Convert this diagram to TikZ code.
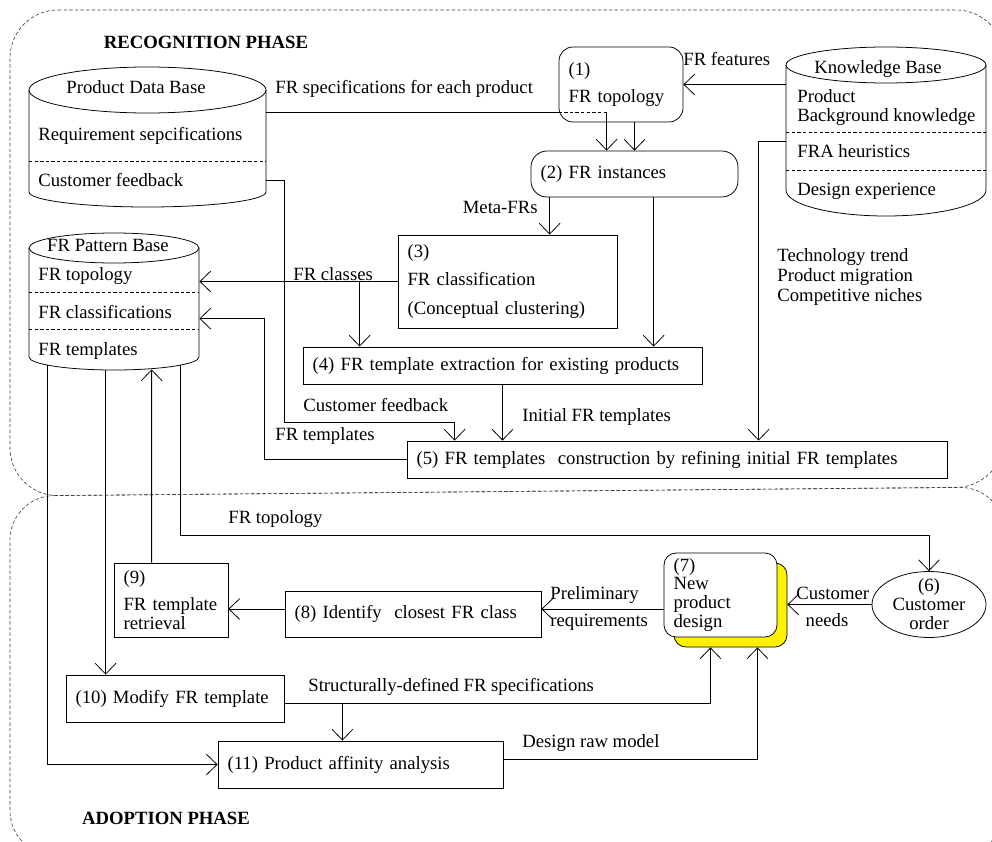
\documentclass[tikz,border=0pt]{standalone}
\usepackage{fontspec}
\setmainfont{Liberation Serif}
\usetikzlibrary{arrows.meta,calc,fit,shapes.geometric,shadows}

\newcommand{\diagfont}{\fontsize{13.3pt}{13.5pt}\selectfont}
% data base drum: left x, right x, top centre y, top radius, side bottom y, bottom radius
\newcommand{\dbdrum}[6]{%
  \draw ({(#1+#2)/2},#3) ellipse [x radius={(#2-#1)*0.125mm}, y radius={#4*0.25mm}];
  \draw (#1,#3) -- (#1,#5) arc [start angle=180, end angle=360, x radius={(#2-#1)*0.125mm}, y radius={#6*0.25mm}] -- (#2,#3);
}

\begin{document}
\begin{tikzpicture}[
    x=0.25mm, y=-0.25mm, line width=0.55pt, font=\diagfont,
    box/.style={draw, rectangle, align=left, inner xsep=2.4mm, inner ysep=0pt},
    rbox/.style={box, rounded corners=3.5mm},
    arr/.style={-{Straight Barb[length=2.7mm,width=5.2mm]}},
    lbl/.style={inner sep=0pt, anchor=west, text height=0.7em, text depth=0.2em},
    sep/.style={dash pattern=on 2.4pt off 1.6pt, line width=0.45pt},
    phase/.style={dash pattern=on 2.4pt off 1.6pt, line width=0.45pt, black!75}
]
    \useasboundingbox (0,0) rectangle (992,842);
    \clip (0,0) rectangle (992,842);

    % phases
    \draw[phase, rounded corners=12mm] (10,10) -- (1004,10) -- (1004,487) -- (10,496) -- cycle;
    \draw[phase, rounded corners=11mm] (10,496) -- (1004,487) -- (1004,855) -- (10,855) -- cycle;
    \node[font=\diagfont\bfseries] (recog) at (206,42) {RECOGNITION PHASE};
    \node[font=\diagfont\bfseries, anchor=west] (adopt) at (77,818) {ADOPTION PHASE};

    % data bases
    \dbdrum{29}{266}{90}{23}{192}{15}
    \node[fit={(29,90) (266,192)}, inner sep=0pt] (pdb) {};
    \node[lbl, anchor=center] (pdbt) at (136,90) {Product Data Base};
    \node[lbl] (pdbr) at (38,137) {Requirement sepcifications};
    \draw[sep] (29,161) -- (266,161);
    \node[lbl] (pdbf) at (38,183) {Customer feedback};

    \dbdrum{786}{986}{65}{18}{190}{26}
    \node[fit={(786,65) (986,190)}, inner sep=0pt] (kb) {};
    \node[lbl, anchor=center] (kbt) at (878,70) {Knowledge Base};
    \node[inner sep=0pt, align=left, anchor=west] (kbp) at (797,107.5) {Product\\Background knowledge};
    \draw[sep] (786,132) -- (986,132);
    \node[lbl] (kbh) at (797,154) {FRA heuristics};
    \draw[sep] (786,170) -- (986,170);
    \node[lbl] (kbd) at (797,192) {Design experience};

    \dbdrum{29}{199}{248}{15}{357}{13}
    \node[fit={(29,248) (199,357)}, inner sep=0pt] (fpb) {};
    \node[lbl, anchor=center] (fpbt) at (108,248) {FR Pattern Base};
    \node[lbl] (fpbo) at (38,277) {FR topology};
    \draw[sep] (29,292) -- (199,292);
    \node[lbl] (fpbc) at (38,315) {FR classifications};
    \draw[sep] (29,329) -- (199,329);
    \node[lbl] (fpbm) at (38,352) {FR templates};

    % steps
    \node[rbox, text width=26.2mm, minimum height=18.75mm] (t1) at (621,84.5) {(1)\\[6pt]FR topology};
    \node[rbox, text width=46.95mm, minimum height=11.5mm, rounded corners=4mm] (t2) at (634.5,174) {(2) FR instances};
    \node[box, text width=49.95mm, minimum height=23.25mm] (t3) at (507.5,281.5) {(3)\\[6pt]FR classification\\[7pt](Conceptual clustering)};
    \node[box, text width=94.95mm, minimum height=9.25mm] (t4) at (502.5,365.5) {(4) FR template extraction for existing products};
    \node[box, text width=130.2mm, minimum height=9.25mm] (t5) at (677,459.5) {(5) FR templates\ \ construction by refining initial FR templates};
    \node[ellipse, draw, minimum width=28.5mm, minimum height=16.5mm, inner sep=-2mm, align=center] (t6) at (929,604.5) {(6)\\Customer\\order};
    \node[rbox, rounded corners=3mm, text width=23.45mm, minimum height=21mm, fill=white,
        copy shadow={shadow xshift=2.5mm, shadow yshift=-2.5mm, fill=yellow, draw=black, line width=0.55pt}] (t7) at (720.5,595) {(7)\\New\\product\\design};
    \node[box, text width=59.2mm, minimum height=11.5mm] (t8) at (413,614) {(8) Identify\ \ closest FR class};
    \node[box, text width=23.7mm, minimum height=18.5mm] (t9) at (171,600) {(9)\\[6pt]FR template\\retrieval};
    \node[box, text width=49.7mm, minimum height=11.75mm] (t10) at (175,698.5) {(10) Modify FR template};
    \node[box, text width=66.45mm, minimum height=11.75mm] (t11) at (360.5,764.5) {(11) Product affinity analysis};

    % recognition flows
    \draw ($(pdb.north east)+(0,23)$) coordinate (s1) -- (s1 -| t1.west);
    \draw[sep] (s1 -| t1.west) -- ++(48,0) coordinate (s2);
    \draw[arr] (s2) -- (s2 |- t2.north);
    \draw[arr] (t1.south -| t2.north) -- (t2.north);
    \draw[arr] (kb.west |- t1.east) -- (t1.east);
    \draw[arr] ($(t2.south west)+(19,0)$) coordinate (m1) -- (m1 |- t3.north);
    \draw[arr] ($(t2.south west)+(123,0)$) coordinate (m2) -- (m2 |- t4.north);
    \draw[arr] (t3.west) -- (t3.west -| fpb.east);
    \draw[arr] ($(t3.west)+(-38,0)$) coordinate (c1) -- (c1 |- t4.north);
    \draw[arr] ($(pdb.north east)+(0,91)$) -- ++(18,0) -- ++(0,242) -| ($(t5.north west)+(48,0)$);
    \draw[arr] (t4.south) -- (t4.south |- t5.north);
    \draw[arr] ($(kb.north west)+(0,77)$) -- ++(-27,0) coordinate (k1) -- (k1 |- t5.north);
    \draw[arr] (t5.west) -- ++(-142,0) |- ($(fpb.north east)+(0,71)$);

    % adoption flows
    \draw[arr] ($(fpb.south west)+(19,8)$) |- (t11.west);
    \draw[arr] ($(fpb.south west)+(77,13)$) coordinate (p2) -- (p2 |- t10.north);
    \draw[arr] ($(t9.north west)+(38,0)$) -- ($(fpb.south west)+(123,12)$);
    \draw[arr] ($(fpb.south west)+(152,8)$) -- ++(0,170) -| (t6.north);
    \draw[arr] (t6.west) -- ($(t7.east |- t6.west)+(10,0)$);
    \draw[arr] ($(t7.west)+(0,14)$) coordinate (r1) -- (r1 -| t8.east);
    \draw[arr] (r1 -| t8.west) -- (r1 -| t9.east);
    \draw[arr] ($(t10.east)+(0,5)$) coordinate (q1) -| ($(t7.south)+(-10,10)$);
    \draw[arr] ($(q1)+(58,0)$) coordinate (q2) -- (q2 |- t11.north);
    \draw[arr] ($(t11.east)+(0,-5)$) -| ($(t7.south)+(37,10)$);

    % labels
    \node[lbl] (lspec) at (275,90) {FR specifications for each product};
    \node[lbl] (lfeat) at (683,62) {FR features};
    \node[lbl, anchor=east] (lmeta) at (538,210) {Meta-FRs};
    \node[lbl] (lclass) at (293,277) {FR classes};
    \node[lbl] (lfb) at (303,408) {Customer feedback};
    \node[lbl] (linit) at (522,418) {Initial FR templates};
    \node[lbl] (ltpl) at (275,437) {FR templates};
    \node[inner sep=0pt, align=left, anchor=west] (ltrend) at (777,277) {Technology trend\\[0.7pt]Product migration\\[0.7pt]Competitive niches};
    \node[lbl] (ltopo) at (228,520) {FR topology};
    \node[lbl] (lpre) at (550,596) {Preliminary};
    \node[lbl] (lreq) at (550,623) {requirements};
    \node[lbl] (lcust) at (796,596) {Customer};
    \node[lbl, anchor=center] (lneeds) at (827,623) {needs};
    \node[lbl] (lstruct) at (308,688) {Structurally-defined FR specifications};
    \node[lbl] (lraw) at (522,744) {Design raw model};
\end{tikzpicture}
\end{document}
